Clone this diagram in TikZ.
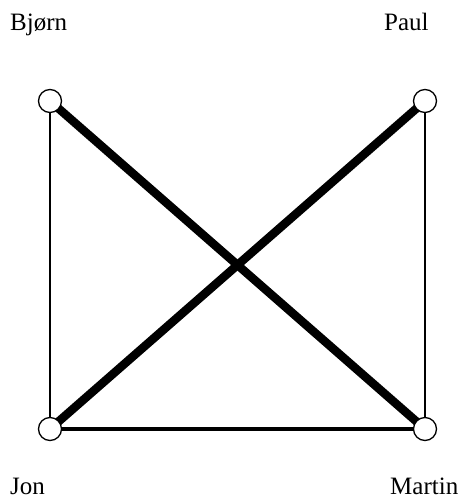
\documentclass[tikz,border=0pt]{standalone}
\usepackage{fontspec}
\setmainfont{Liberation Serif}
\begin{document}
\begin{tikzpicture}[x=1pt,y=-1pt,
  vert/.style={circle,draw,fill=white,line width=1.3pt,minimum size=23pt,inner sep=0pt},
  lbl/.style={font=\fontsize{25}{30}\selectfont,inner sep=0pt,anchor=base west},
  thinedge/.style={line width=1.3pt},
  midedge/.style={line width=4pt},
  thickedge/.style={line width=8.5pt}]
\useasboundingbox (0,0) rectangle (460,499);
\coordinate (b) at (50,101);
\coordinate (p) at (425,101);
\coordinate (j) at (50,429);
\coordinate (m) at (425,429);
\draw[thinedge] (b) -- (j);
\draw[thinedge] (p) -- (m);
\draw[midedge] (j) -- (m);
\draw[thickedge] (b) -- (m);
\draw[thickedge] (p) -- (j);
\node[vert] (B) at (b) {};
\node[vert] (P) at (p) {};
\node[vert] (J) at (j) {};
\node[vert] (M) at (m) {};
\node[lbl] (LB) at (10,30) {Bjørn};
\node[lbl] (LP) at (384,30) {Paul};
\node[lbl] (LJ) at (10,494) {Jon};
\node[lbl] (LM) at (390,494) {Martin};
\end{tikzpicture}
\end{document}
